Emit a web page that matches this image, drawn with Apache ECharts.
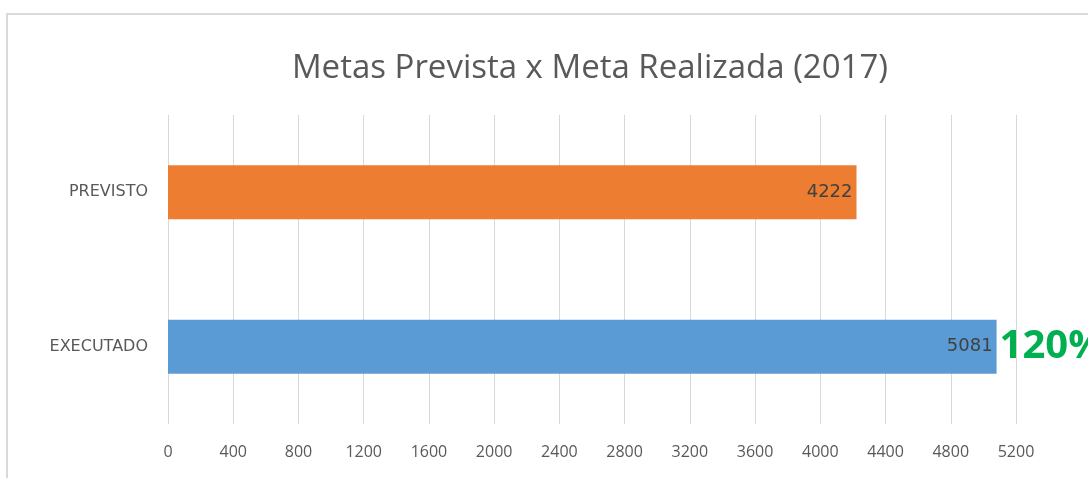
<!DOCTYPE html>
<html>
<head>
<meta charset="utf-8">
<script src="https://cdn.jsdelivr.net/npm/echarts@6/dist/echarts.min.js"></script>
<style>
  html, body { margin: 0; padding: 0; background: #fff; overflow: hidden; }
  #frame { position: absolute; left: 6px; top: 13px; width: 1200px; height: 600px; border: 2px solid #d9d9d9; box-sizing: border-box; }
  #main { position: absolute; left: 0; top: 0; width: 1088px; height: 478px; }
</style>
</head>
<body>
<div id="frame"></div>
<div id="main"></div>
<script>
// dados do gráfico
var categorias = ['EXECUTADO', 'PREVISTO'];
var valores = [5081, 4222];
var cores = ['#5b9bd5', '#ed7d31'];
var percentuais = ['120%', ''];

var myChart = echarts.init(document.getElementById('main'));

var option = {
  title: {
    text: 'Metas Prevista x Meta Realizada (2017)',
    left: 585,
    textAlign: 'center',
    top: 47,
    textStyle: {
      fontFamily: 'Open Sans',
      fontSize: 33,
      fontWeight: 'normal',
      color: '#595959'
    }
  },
  grid: {
    left: 168,
    right: 72,
    top: 115,
    bottom: 54,
    outerBoundsMode: 'none'
  },
  xAxis: {
    type: 'value',
    min: 0,
    max: 5200,
    interval: 400,
    axisLine: { show: false },
    axisTick: { show: false },
    axisLabel: {
      margin: 20,
      formatter: function (v) { return String(v); },
      fontFamily: 'Open Sans',
      fontSize: 16,
      color: '#595959'
    },
    splitLine: { lineStyle: { color: '#d9d9d9', width: 1 } }
  },
  yAxis: {
    type: 'category',
    data: categorias,
    axisLine: { show: false },
    axisTick: { show: false },
    axisLabel: {
      margin: 20,
      fontFamily: 'DejaVu Sans',
      fontSize: 16,
      color: '#595959'
    }
  },
  series: [
    {
      type: 'bar',
      barCategoryGap: '65%',
      data: valores.map(function (v, i) {
        return { value: v, itemStyle: { color: cores[i] } };
      }),
      label: {
        show: true,
        position: 'insideRight',
        distance: 4,
        fontFamily: 'DejaVu Sans',
        fontSize: 18,
        color: '#404040'
      },
      z: 2
    },
    {
      // percentual de realização, à direita da barra
      type: 'bar',
      barGap: '-100%',
      barCategoryGap: '65%',
      data: valores,
      itemStyle: { color: 'rgba(0,0,0,0)' },
      label: {
        show: true,
        position: 'right',
        distance: 3,
        formatter: function (p) { return percentuais[p.dataIndex]; },
        fontFamily: 'Open Sans',
        fontSize: 40,
        fontWeight: 'bold',
        color: '#00b050'
      },
      silent: true,
      z: 3
    }
  ]
};

myChart.setOption(option);
</script>
</body>
</html>
